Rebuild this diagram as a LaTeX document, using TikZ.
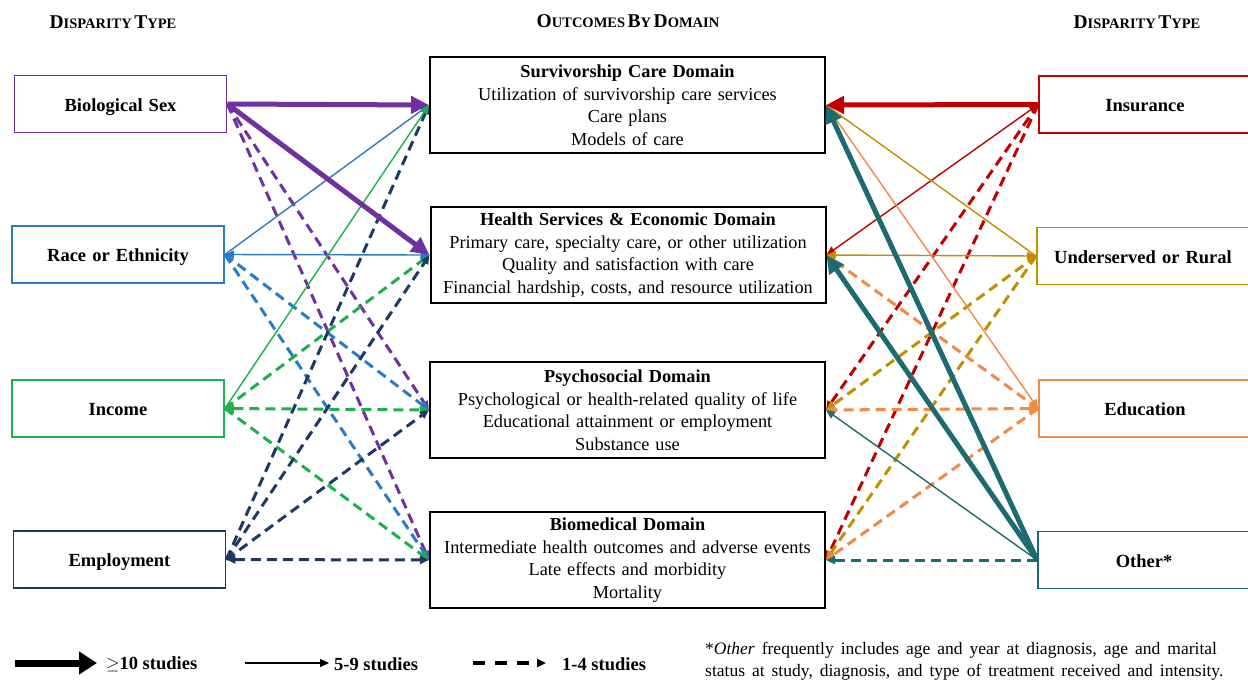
\documentclass[tikz,border=0pt]{standalone}
\usepackage{fontspec}
\setmainfont{Liberation Serif}
\usetikzlibrary{arrows.meta}

\definecolor{cPurple}{HTML}{7030A0}
\definecolor{cBlue}{HTML}{2A7BC4}
\definecolor{cGreen}{HTML}{1DB04E}
\definecolor{cNavy}{HTML}{203864}
\definecolor{cRed}{HTML}{C00000}
\definecolor{cGold}{HTML}{BF9000}
\definecolor{cOrange}{HTML}{F08A45}
\definecolor{cTeal}{HTML}{1B6B70}

% fake small caps for the column headings
\newcommand{\capsA}[2]{{\fontsize{19.5}{19.5}\selectfont #1}{\fontsize{14.5}{14.5}\selectfont #2}}
% slightly wider word spaces, as in the printed labels
\newcommand{\widesp}{\spaceskip=0.33em plus 0.1em\relax}
\newcommand{\notesp}{\spaceskip=0.4em plus 0.1em\relax}

\tikzset{
  dispbox/.style={draw=#1, line width=1.8pt, rectangle, minimum width=212pt,
    minimum height=57pt, inner sep=0pt, text height=16pt, text depth=2pt,
    font=\bfseries\fontsize{18.5}{22}\selectfont\widesp},
  outbox/.style={draw=black, line width=2pt, rectangle, minimum width=395pt,
    minimum height=96pt, inner sep=0pt, align=center,
    font=\fontsize{18.3}{22.5}\selectfont\widesp},
  heading/.style={font=\bfseries, inner sep=0pt},
  smalltip/.tip={Triangle[length=9pt,width=8pt]},
  bigtip/.tip={Triangle[length=18pt,width=17pt]},
  tenplus/.style={line width=5pt, -bigtip},
  fivenine/.style={line width=1.4pt, -smalltip},
  onefour/.style={line width=3pt, dash pattern=on 10pt off 6pt, -smalltip},
  legtext/.style={anchor=west, inner sep=0pt, font=\bfseries\fontsize{18.5}{18}\selectfont},
  notetext/.style={anchor=north west, inner sep=0pt, align=left,
    font=\fontsize{17.5}{22}\selectfont\notesp},
}

\begin{document}
\begin{tikzpicture}[x=1pt,y=-1pt]
\path[use as bounding box, clip] (0,0) rectangle (1248,681);
\fill[white] (0,0) rectangle (1248,681);

% column headings
\node[heading] (hL) at (113,22) {\capsA{D}{ISPARITY}\ \capsA{T}{YPE}};
\node[heading] (hM) at (628,21) {\capsA{O}{UTCOMES}\ \capsA{B}{Y}\ \capsA{D}{OMAIN}};
\node[heading] (hR) at (1137,22) {\capsA{D}{ISPARITY}\ \capsA{T}{YPE}};

% disparity boxes, left column
\node[dispbox=cPurple] (sex)  at (120.5,104)   {Biological Sex};
\node[dispbox=cBlue]   (race) at (118,254.5)   {Race or Ethnicity};
\node[dispbox=cGreen]  (inc)  at (118,408.5)   {Income};
\node[dispbox=cNavy]   (emp)  at (119.5,559.5) {Employment};

% disparity boxes, right column
\node[dispbox=cRed]    (ins)   at (1145,104.5) {Insurance};
\node[dispbox=cGold]   (rural) at (1143,256)   {Underserved or Rural};
\node[dispbox=cOrange] (edu)   at (1145,408.5) {Education};
\node[dispbox=cTeal]   (oth)   at (1144,560)   {Other*};

% outcome domains
\node[outbox] (surv) at (627.5,105) {\textbf{Survivorship Care Domain}\\Utilization of survivorship care services\\Care plans\\Models of care};
\node[outbox] (hs) at (628,255) {\textbf{Health Services \& Economic Domain}\\Primary care, specialty care, or other utilization\\Quality and satisfaction with care\\Financial hardship, costs, and resource utilization};
\node[outbox] (psy) at (627.5,410) {\textbf{Psychosocial Domain}\\Psychological or health-related quality of life\\Educational attainment or employment\\Substance use};
\node[outbox] (bio) at (627.5,560) {\textbf{Biomedical Domain}\\Intermediate health outcomes and adverse events\\Late effects and morbidity\\Mortality};

% 1-4 studies, left
\draw[onefour, cPurple] (sex.east) -- (psy.west);
\draw[onefour, cPurple] (sex.east) -- (bio.west);
\draw[onefour, cBlue] (race.east) -- (psy.west);
\draw[onefour, cBlue] (race.east) -- (bio.west);
\draw[onefour, cGreen] (inc.east) -- (hs.west);
\draw[onefour, cGreen, smalltip-smalltip] (inc.east) -- (psy.west);
\draw[onefour, cGreen] (inc.east) -- (bio.west);
\draw[onefour, cNavy] (emp.east) -- (surv.west);
\draw[onefour, cNavy] (emp.east) -- (hs.west);
\draw[onefour, cNavy] (emp.east) -- (psy.west);
\draw[onefour, cNavy, smalltip-smalltip] (emp.east) -- (bio.west);

% 1-4 studies, right
\draw[onefour, cRed] (ins.west) -- (psy.east);
\draw[onefour, cRed] (ins.west) -- (bio.east);
\draw[onefour, cGold] (rural.west) -- (psy.east);
\draw[onefour, cGold] (rural.west) -- (bio.east);
\draw[onefour, cOrange] (edu.west) -- (hs.east);
\draw[onefour, cOrange, smalltip-smalltip] (edu.west) -- (psy.east);
\draw[onefour, cOrange] (edu.west) -- (bio.east);
\draw[onefour, cTeal] (oth.west) -- (bio.east);

% 5-9 studies
\draw[fivenine, cBlue] (race.east) -- (surv.west);
\draw[fivenine, cBlue, smalltip-smalltip] (race.east) -- (hs.west);
\draw[fivenine, cGreen] (inc.east) -- (surv.west);
\draw[fivenine, cRed, smalltip-smalltip] (ins.west) -- (hs.east);
\draw[fivenine, cGold] (rural.west) -- (surv.east);
\draw[fivenine, cGold, smalltip-smalltip] (rural.west) -- (hs.east);
\draw[fivenine, cOrange, smalltip-smalltip] (edu.west) -- (surv.east);
\draw[fivenine, cTeal] (oth.west) -- (psy.east);

% 10 or more studies
\draw[tenplus, cPurple] (sex.east) -- (surv.west);
\draw[tenplus, cPurple] (sex.east) -- (hs.west);
\draw[tenplus, cRed] (ins.west) -- (surv.east);
\draw[tenplus, cTeal] (oth.west) -- (surv.east);
\draw[tenplus, cTeal] (oth.west) -- (hs.east);

% legend
\coordinate (la1) at (15,663);  \coordinate (lb1) at (97,663);
\coordinate (la2) at (245,663); \coordinate (lb2) at (329,663);
\coordinate (la3) at (473,663); \coordinate (lb3) at (546,663);
\draw[line width=7pt, -{Triangle[length=18pt,width=22pt]}] (la1) -- (lb1);
\draw[line width=1.4pt, -smalltip] (la2) -- (lb2);
\draw[line width=3.5pt, dash pattern=on 12pt off 10pt, -smalltip] (la3) -- (lb3);
\node[legtext] (lt1) at (106,664) {$\geq$10 studies};
\node[legtext] (lt2) at (334,664) {5-9 studies};
\node[legtext] (lt3) at (562,664) {1-4 studies};

% footnote
\node[notetext] (note) at (705,642)
  {*\textit{Other} frequently includes age and year at diagnosis, age and marital\\
   status at study, diagnosis, and type of treatment received and intensity.};
\end{tikzpicture}
\end{document}
